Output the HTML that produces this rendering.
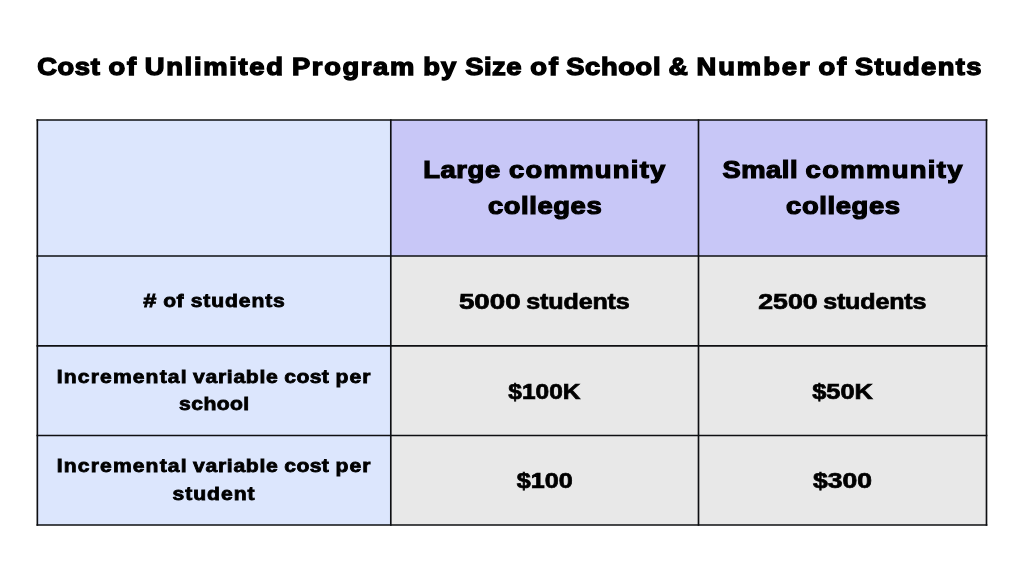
<!DOCTYPE html>
<html><head><meta charset='utf-8'><title>Cost of Unlimited Program</title>
<style>
html,body{margin:0;padding:0;background:#fff}
#c{position:relative;width:1024px;height:576px;overflow:hidden;background:#fff}
.r{position:absolute}
.w{position:absolute;left:0;white-space:pre;color:#000;transform-origin:0 0}
.t{font:bold 24.0px/1 "Liberation Sans", sans-serif;-webkit-text-stroke:1.3px #000;}
.h{font:bold 24.0px/1 "Liberation Sans", sans-serif;-webkit-text-stroke:1.2px #000;}
.s{font:bold 18.5px/1 "Liberation Sans", sans-serif;-webkit-text-stroke:0.8px #000;}
.v{font:bold 22.0px/1 "Liberation Sans", sans-serif;-webkit-text-stroke:0.7px #000;}
</style></head>
<body><div id='c'>
<svg class='r' style='left:0;top:0' width='1024' height='576' viewBox='0 0 1024 576'>
<rect x='37.35' y='120.00' width='353.45' height='405.00' fill='#dce6fd'/>
<rect x='390.80' y='120.00' width='595.70' height='135.95' fill='#c8c7f7'/>
<rect x='390.80' y='255.95' width='595.70' height='269.05' fill='#e8e8e8'/>
<g stroke='#0e0f12' stroke-width='1.65' fill='none'>
<line x1='36.52' y1='120.00' x2='987.33' y2='120.00'/>
<line x1='36.52' y1='255.95' x2='987.33' y2='255.95'/>
<line x1='36.52' y1='345.80' x2='987.33' y2='345.80'/>
<line x1='36.52' y1='435.45' x2='987.33' y2='435.45'/>
<line x1='36.52' y1='525.00' x2='987.33' y2='525.00'/>
<line x1='37.35' y1='119.17' x2='37.35' y2='525.83'/>
<line x1='390.80' y1='119.17' x2='390.80' y2='525.83'/>
<line x1='698.50' y1='119.17' x2='698.50' y2='525.83'/>
<line x1='986.50' y1='119.17' x2='986.50' y2='525.83'/>
</g></svg>
<span class='w t' style='top:55px;transform:translateX(37.18px) scaleX(1.1386);letter-spacing:0.54px'>Cost</span>
<span class='w t' style='top:55px;transform:translateX(108.53px) scaleX(1.1430);letter-spacing:1.54px'>of</span>
<span class='w t' style='top:55px;transform:translateX(144.71px) scaleX(1.1406);letter-spacing:1.49px'>Unlimited</span>
<span class='w t' style='top:55px;transform:translateX(292.01px) scaleX(1.1397);letter-spacing:1.42px'>Program</span>
<span class='w t' style='top:55px;transform:translateX(423.31px) scaleX(1.1421);letter-spacing:0.88px'>by</span>
<span class='w t' style='top:55px;transform:translateX(465.15px) scaleX(1.1429);letter-spacing:0.44px'>Size</span>
<span class='w t' style='top:55px;transform:translateX(530.23px) scaleX(1.1450);letter-spacing:1.58px'>of</span>
<span class='w t' style='top:55px;transform:translateX(566.15px) scaleX(1.1382);letter-spacing:0.58px'>School</span>
<span class='w t' style='top:55px;transform:translateX(668.46px) scaleX(1.1193)'>&amp;</span>
<span class='w t' style='top:55px;transform:translateX(696.41px) scaleX(1.1388);letter-spacing:1.76px'>Number</span>
<span class='w t' style='top:55px;transform:translateX(818.38px) scaleX(1.1450);letter-spacing:1.58px'>of</span>
<span class='w t' style='top:55px;transform:translateX(854.90px) scaleX(1.1388);letter-spacing:1.20px'>Students</span>
<span class='w h' style='top:158px;transform:translateX(423.26px) scaleX(1.1409);letter-spacing:0.50px'>Large</span>
<span class='w h' style='top:158px;transform:translateX(508.98px) scaleX(1.1409);letter-spacing:1.13px'>community</span>
<span class='w h' style='top:194px;transform:translateX(487.88px) scaleX(1.1405);letter-spacing:0.53px'>colleges</span>
<span class='w h' style='top:158px;transform:translateX(722.45px) scaleX(1.1392);letter-spacing:0.47px'>Small</span>
<span class='w h' style='top:158px;transform:translateX(805.58px) scaleX(1.1408);letter-spacing:1.19px'>community</span>
<span class='w h' style='top:194px;transform:translateX(786.08px) scaleX(1.1415);letter-spacing:0.54px'>colleges</span>
<span class='w s' style='top:292px;transform:translateX(143.36px) scaleX(1.2754)'>#</span>
<span class='w s' style='top:292px;transform:translateX(163.34px) scaleX(1.1361);letter-spacing:0.27px'>of</span>
<span class='w s' style='top:292px;transform:translateX(190.66px) scaleX(1.1395);letter-spacing:0.79px'>students</span>
<span class='w v' style='top:291px;transform:translateX(458.88px) scaleX(1.2612)'>5000</span>
<span class='w v' style='top:291px;transform:translateX(526.29px) scaleX(1.1398);letter-spacing:-0.13px'>students</span>
<span class='w v' style='top:291px;transform:translateX(758.23px) scaleX(1.2136)'>2500</span>
<span class='w v' style='top:291px;transform:translateX(823.19px) scaleX(1.1386);letter-spacing:-0.15px'>students</span>
<span class='w s' style='top:368px;transform:translateX(56.80px) scaleX(1.1394);letter-spacing:1.00px'>Incremental</span>
<span class='w s' style='top:368px;transform:translateX(192.98px) scaleX(1.1432);letter-spacing:0.61px'>variable</span>
<span class='w s' style='top:368px;transform:translateX(284.34px) scaleX(1.1447);letter-spacing:0.27px'>cost</span>
<span class='w s' style='top:368px;transform:translateX(335.47px) scaleX(1.1412);letter-spacing:0.94px'>per</span>
<span class='w s' style='top:395px;transform:translateX(179.06px) scaleX(1.1428);letter-spacing:0.35px'>school</span>
<span class='w v' style='top:381px;transform:translateX(508.37px) scaleX(1.1122)'>$100K</span>
<span class='w v' style='top:381px;transform:translateX(812.13px) scaleX(1.1557)'>$50K</span>
<span class='w s' style='top:457px;transform:translateX(56.80px) scaleX(1.1394);letter-spacing:1.00px'>Incremental</span>
<span class='w s' style='top:457px;transform:translateX(192.98px) scaleX(1.1432);letter-spacing:0.61px'>variable</span>
<span class='w s' style='top:457px;transform:translateX(284.34px) scaleX(1.1447);letter-spacing:0.27px'>cost</span>
<span class='w s' style='top:457px;transform:translateX(335.47px) scaleX(1.1412);letter-spacing:0.94px'>per</span>
<span class='w s' style='top:485px;transform:translateX(172.46px) scaleX(1.1416);letter-spacing:0.85px'>student</span>
<span class='w v' style='top:470px;transform:translateX(516.78px) scaleX(1.1434)'>$100</span>
<span class='w v' style='top:470px;transform:translateX(812.97px) scaleX(1.2070)'>$300</span>
</div></body></html>
